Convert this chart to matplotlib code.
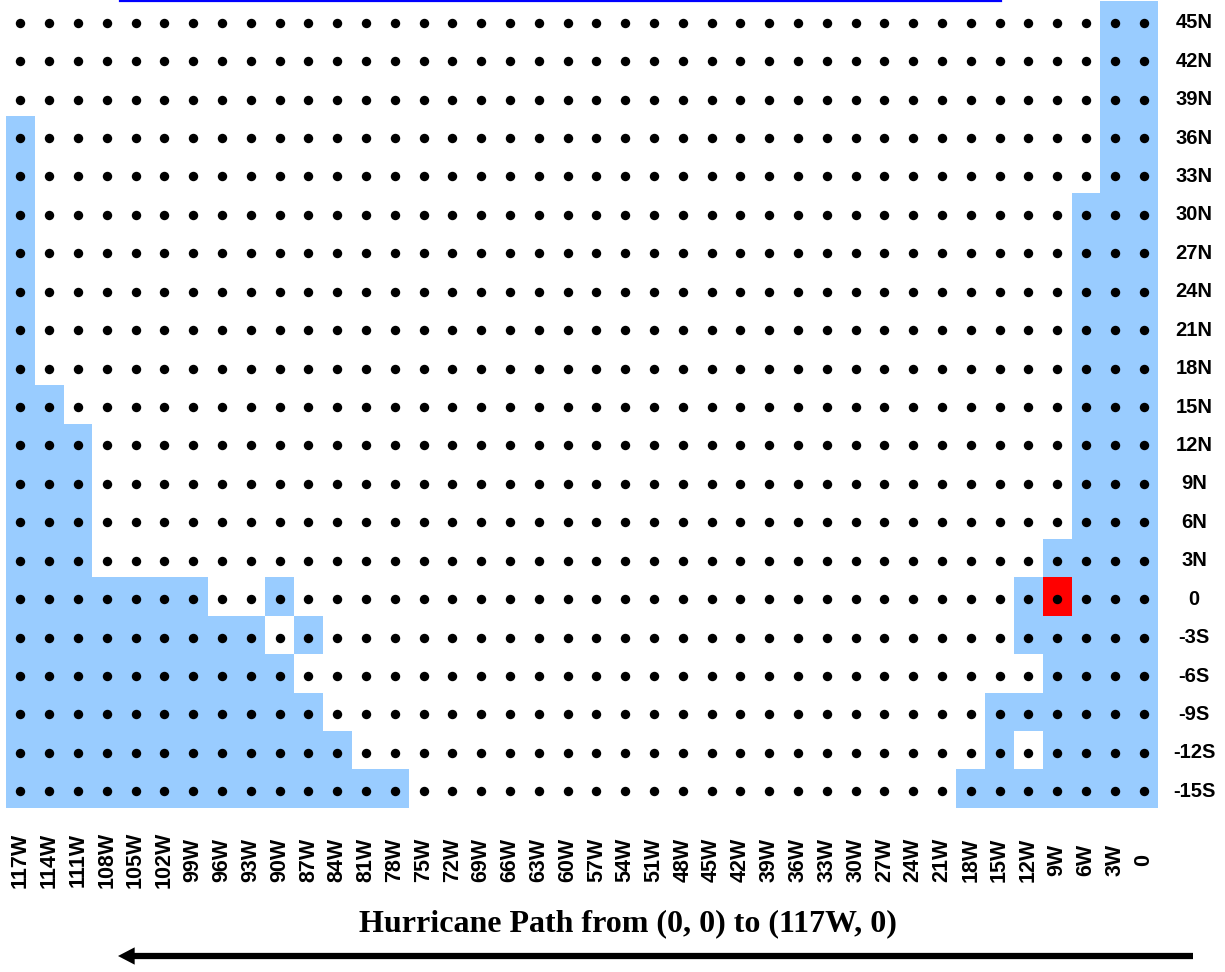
import matplotlib
matplotlib.use('Agg')
import matplotlib.pyplot as plt
import numpy as np
from matplotlib.colors import ListedColormap
from matplotlib import transforms
from matplotlib.lines import Line2D

# ---- data ----
lon_labels = ['117W', '114W', '111W', '108W', '105W', '102W', '99W', '96W', '93W', '90W',
              '87W', '84W', '81W', '78W', '75W', '72W', '69W', '66W', '63W', '60W',
              '57W', '54W', '51W', '48W', '45W', '42W', '39W', '36W', '33W', '30W',
              '27W', '24W', '21W', '18W', '15W', '12W', '9W', '6W', '3W', '0']
lat_labels = ['45N', '42N', '39N', '36N', '33N', '30N', '27N', '24N', '21N', '18N',
              '15N', '12N', '9N', '6N', '3N', '0', '-3S', '-6S', '-9S', '-12S', '-15S']
# '.' = open ocean (white), 'B' = visited/covered (blue), 'R' = current position (red)
grid_rows = [
    "......................................BB",  # 45N
    "......................................BB",  # 42N
    "......................................BB",  # 39N
    "B.....................................BB",  # 36N
    "B.....................................BB",  # 33N
    "B....................................BBB",  # 30N
    "B....................................BBB",  # 27N
    "B....................................BBB",  # 24N
    "B....................................BBB",  # 21N
    "B....................................BBB",  # 18N
    "BB...................................BBB",  # 15N
    "BBB..................................BBB",  # 12N
    "BBB..................................BBB",  # 9N
    "BBB..................................BBB",  # 6N
    "BBB.................................BBBB",  # 3N
    "BBBBBBB..B.........................BRBBB",  # 0
    "BBBBBBBBB.B........................BBBBB",  # -3S
    "BBBBBBBBBB..........................BBBB",  # -6S
    "BBBBBBBBBBB.......................BBBBBB",  # -9S
    "BBBBBBBBBBBB......................B.BBBB",  # -12S
    "BBBBBBBBBBBBBB...................BBBBBBB",  # -15S
]
title = 'Hurricane Path from (0, 0) to (117W, 0)'

# ---- figure ----
W, H = 1225, 972
fig = plt.figure(figsize=(W / 100, H / 100), dpi=100)
ax = fig.add_axes([6 / W, (H - 808) / H, 1152 / W, 807 / H])

code = {'.': 0, 'B': 1, 'R': 2}
mat = np.array([[code[c] for c in r] for r in grid_rows])
cmap = ListedColormap(['#FFFFFF', '#99CCFF', '#FF0000'])
ax.imshow(mat, cmap=cmap, vmin=0, vmax=2, interpolation='nearest', aspect='auto')

off = transforms.ScaledTranslation(0, -0.025, fig.dpi_scale_trans)
xx, yy = np.meshgrid(np.arange(len(lon_labels)), np.arange(len(lat_labels)))
ax.scatter(xx.ravel(), yy.ravel(), s=46, c='black', linewidths=0,
           transform=ax.transData + off, zorder=3)
ax.set_xlim(-0.5, len(lon_labels) - 0.5)
ax.set_ylim(len(lat_labels) - 0.5, -0.5)
ax.axis('off')

# right-hand latitude labels
tr_r = transforms.blended_transform_factory(fig.transFigure, ax.transData) + off
for i, lab in enumerate(lat_labels):
    ax.text(1194 / W, i, lab, transform=tr_r, ha='center', va='center',
            fontsize=14.5, fontweight='bold', family='Liberation Sans')

# bottom longitude labels
tr_b = transforms.blended_transform_factory(ax.transData, fig.transFigure)
for j, lab in enumerate(lon_labels):
    ax.text(j, 1 - 860 / H, lab, transform=tr_b, ha='center', va='center',
            rotation=90, fontsize=15.5, fontweight='bold', family='Liberation Sans')

# title and arrow
fig.text(628 / W, 1 - 924 / H, title, ha='center', va='center',
         family='Liberation Serif', fontweight='bold', fontsize=23)
fig.add_artist(Line2D([120 / W, 1001 / W], [1 - 1 / H, 1 - 1 / H],
                      transform=fig.transFigure, color='#0000FF', lw=1.6))
ax.annotate('', xy=(118 / W, 1 - 956 / H), xytext=(1193 / W, 1 - 956 / H),
            xycoords='figure fraction', textcoords='figure fraction',
            arrowprops=dict(arrowstyle='simple,head_length=1.2,head_width=1.25,tail_width=0.45',
                            mutation_scale=10, fc='black', ec='none',
                            shrinkA=0, shrinkB=0))

fig.savefig('out.png', dpi=100)
